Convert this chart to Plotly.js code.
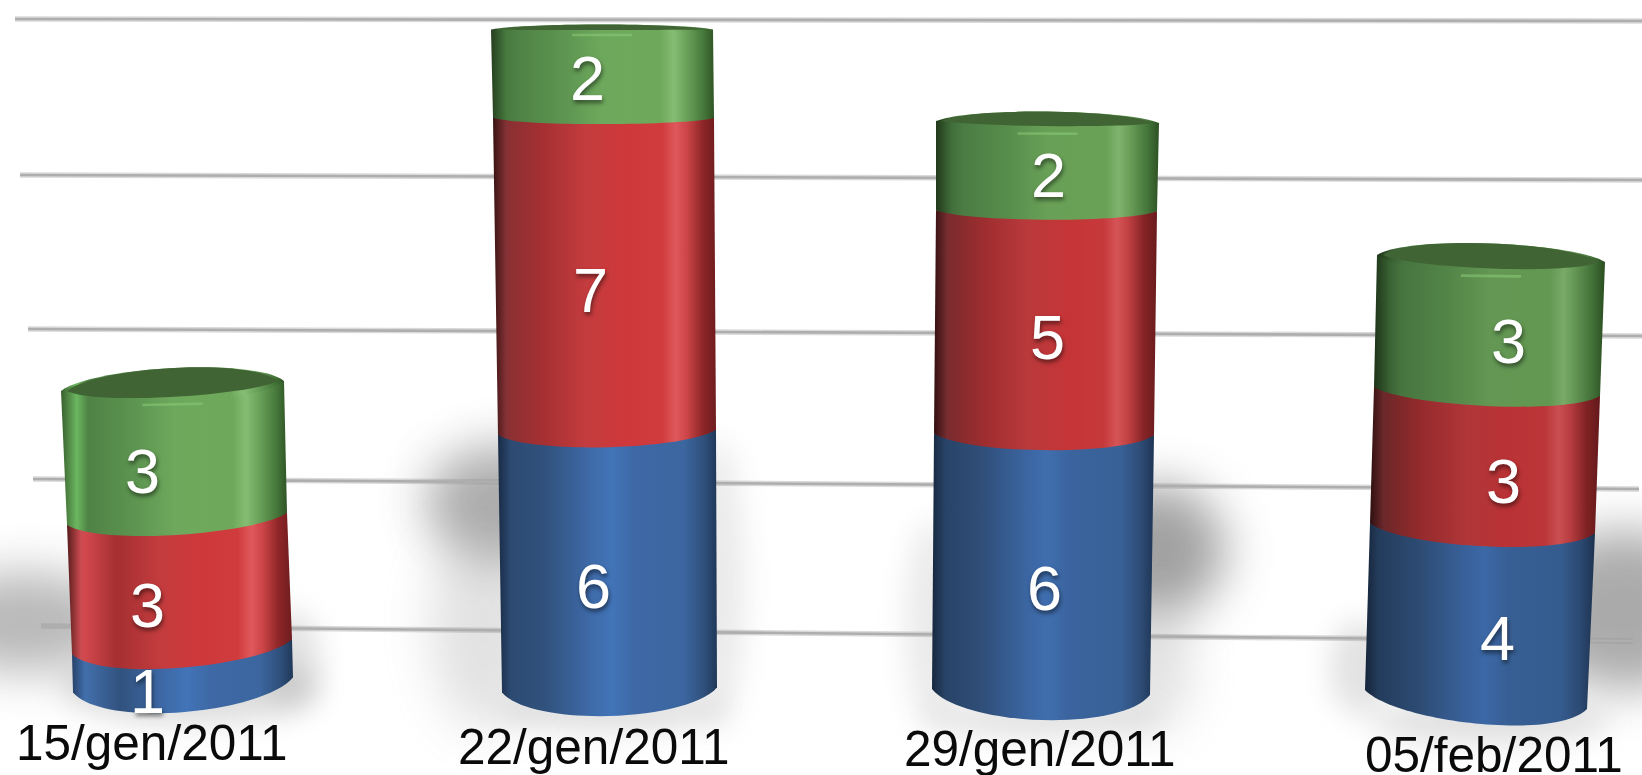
<!DOCTYPE html>
<html>
<head>
<meta charset="utf-8">
<script src="https://cdn.plot.ly/plotly-3.0.1.min.js"></script>
<style>
html,body{margin:0;padding:0;background:#fff;overflow:hidden}
#chart{width:1642px;height:775px;filter:blur(0.7px)}
</style>
</head>
<body>
<div id="chart"></div>
<script>
// ---- data ----
const categories = ["15/gen/2011", "22/gen/2011", "29/gen/2011", "05/feb/2011"];
const seriesBlue  = [1, 6, 6, 4];
const seriesRed   = [3, 7, 5, 3];
const seriesGreen = [3, 2, 2, 3];

// ---- layout / perspective constants (pixels of the 1642x775 page) ----
const U = 44.3, Y0 = 700;
const py = p => +((Y0 - p) / U).toFixed(4);
const allSeries = [seriesBlue, seriesRed, seriesGreen];
const baseColors = ["#3c68a4", "#c23a3c", "#64a055"];
const colFloorPx = [685, 690, 692, 699.5];
const floorNudgePx = [[0, 6, 11], [0, 8, 4], [0, 8, 6], [0, 6, 2]];
const barCenterPx = [178.5, 607.5, 1043, 1482];
const barWidthPx = 190;
// per column, per boundary (bottom..top): [left, right, tilt, sag]
const edgeGeom = [
  [[73, 293, 7.5, 27], [72, 292, 7.5, 21], [67, 287, 6, 16], [61, 284, 5, 18]],
  [[502, 717, 2.5, 26], [498, 716, 2.5, 15], [493, 714, 0, 6], [491, 713, 0, 5]],
  [[932, 1150, -3, 28], [934, 1154, -1, 16], [936, 1157, -0.5, 9], [936, 1159, -1, 11]],
  [[1365, 1587, -9.5, 24], [1370, 1595, -5, 18], [1374, 1600, -4.5, 14.5], [1377, 1605, -3.5, 17]]
];
const capBackSag = [18, 5, 10.5, 15];
const labelCenterPx = [[147, 147, 142], [593, 590, 587], [1044, 1047, 1048], [1497, 1503, 1508]];
const labelDyPx = [[28, 24.5, 18.5], [29, 13, 4], [29, 14, 9], [27, 19.5, 16]];
const catLabelPos = [[152, 742], [594, 746], [1040, 748], [1494, 754]];
const gridLines = [[15, 19, 1642, 21], [20, 175, 1642, 180], [28, 329, 1642, 336], [33, 479, 1639, 489], [41, 626, 1633, 641]];
// soft shadows: [x0, y0, x1, y1, colour, opacity, blurId]
const shadows = [
  [-70, 572, 120, 672, "#666", 0.46, "b1"],
  [60, 650, 320, 725, "#888", 0.28, "b2"],
  [260, 610, 320, 710, "#999", 0.28, "b2"],
  [425, 445, 580, 560, "#555", 0.48, "b1"],
  [430, 520, 540, 730, "#999", 0.28, "b1"],
  [690, 440, 745, 730, "#aaa", 0.24, "b2"],
  [500, 690, 720, 732, "#888", 0.26, "b2"],
  [1090, 485, 1225, 615, "#555", 0.55, "b1"],
  [1120, 600, 1190, 730, "#999", 0.30, "b1"],
  [905, 520, 960, 730, "#aaa", 0.24, "b2"],
  [930, 700, 1160, 738, "#888", 0.24, "b2"],
  [1530, 530, 1720, 690, "#666", 0.55, "b1"],
  [1330, 620, 1390, 715, "#999", 0.28, "b2"],
  [1370, 700, 1610, 744, "#888", 0.26, "b2"]
];
const gradStops = [
  [[0, "#1a2c46"], [0.06, "#2c4a72"], [0.22, "#31527e"], [0.42, "#3e6aa8"], [0.52, "#4274b8"], [0.62, "#3e69a6"], [0.85, "#3b669f"], [0.94, "#30507c"], [1, "#203858"]],
  [[0, "#3a1212"], [0.06, "#853236"], [0.08, "#8c3033"], [0.22, "#a52f31"], [0.42, "#c43c3e"], [0.6, "#cf383b"], [0.76, "#d03c3e"], [0.82, "#e0585b"], [0.87, "#cc4447"], [0.94, "#8e2628"], [1, "#6f1c1e"]],
  [[0, "#253f1e"], [0.07, "#487a40"], [0.12, "#4f8246"], [0.32, "#5c9450"], [0.5, "#6ea85c"], [0.76, "#6ea95b"], [0.82, "#86bd74"], [0.87, "#6ea55d"], [0.95, "#477a3c"], [1, "#305525"]]
];
const colBright = [1, 1, 0.95, 0.9];
const colLeftLift = [1.5, 1, 0.95, 0.9];

// ---- helpers ----
const floorPx = (c, s) => {
  let cum = 0;
  for (let i = 0; i < s; i++) cum += allSeries[i][c];
  return colFloorPx[c] - U * cum + floorNudgePx[c][s];
};
const chordPx = (c, b) => b < 3 ? floorPx(c, b) : floorPx(c, 2) - U * seriesGreen[c];
const P = (x, y) => x.toFixed(2) + "," + py(y);
const curve = ([L, R, t, s], ch, dir) => {
  const w = R - L, yL = ch + t, yR = ch - t, k = 4 / 3 * s * dir;
  return `C${P(R - 0.14 * w, yR + k)} ${P(L + 0.14 * w, yL + k)} ${P(L, yL)}`;
};
function shade(hex, f) {
  const n = parseInt(hex.slice(1), 16);
  const ch = v => Math.max(0, Math.min(255, Math.round(v * f)));
  return "rgb(" + ch(n >> 16) + "," + ch((n >> 8) & 255) + "," + ch(n & 255) + ")";
}

// ---- traces: the stacked bars ----
const traces = allSeries.map((vals, s) => ({
  type: "bar",
  name: ["Blu", "Rosso", "Verde"][s],
  x: barCenterPx,
  y: vals,
  base: vals.map((_, c) => py(floorPx(c, s))),
  width: barWidthPx,
  marker: { color: baseColors[s], line: { width: 0 } },
  hoverinfo: "y",
  showlegend: false
}));

// ---- shapes ----
const shapes = [];
const post = [];
shadows.forEach(([x0, y0, x1, y1, col, op, blur]) => {
  post.push({ i: shapes.length, filter: blur });
  shapes.push({ type: "circle", layer: "below", xref: "x", yref: "y", x0, x1, y0: py(y0), y1: py(y1), fillcolor: col, opacity: op, line: { width: 0 } });
});
gridLines.forEach(([x0, y0, x1, y1]) => {
  shapes.push({ type: "line", layer: "below", xref: "x", yref: "y", x0, x1, y0: py(y0), y1: py(y1), line: { color: "rgba(150,150,150,0.35)", width: 5.5 } });
  shapes.push({ type: "line", layer: "below", xref: "x", yref: "y", x0, x1, y0: py(y0), y1: py(y1), line: { color: "#aeaeae", width: 2.6 } });
});
categories.forEach((_, c) => {
  for (let s = 0; s < 3; s++) {
    const lo = edgeGeom[c][s], up = edgeGeom[c][s + 1];
    const chLo = chordPx(c, s), chUp = chordPx(c, s + 1);
    const path = `M${P(up[0], chUp + up[2])} L${P(up[1], chUp - up[2])} L${P(lo[1], chLo - lo[2])} ${curve(lo, chLo, 1)} Z`;
    post.push({ i: shapes.length, fill: `g${c}_${s}` });
    shapes.push({ type: "path", layer: "above", xref: "x", yref: "y", path, fillcolor: baseColors[s], line: { width: 0 } });
  }
  // top cap
  const g = edgeGeom[c][3], ch = chordPx(c, 3);
  const back = (() => {
    const [L, R, t] = g, w = R - L, k = 4 / 3 * capBackSag[c];
    return `C${P(L + 0.14 * w, ch + t - k)} ${P(R - 0.14 * w, ch - t - k)} ${P(R, ch - t)}`;
  })();
  post.push({ i: shapes.length, fill: `g${c}_2` });
  shapes.push({ type: "path", layer: "above", xref: "x", yref: "y", path: `M${P(g[1], ch - g[2])} ${curve(g, ch, 1)} ${back} Z`, fillcolor: baseColors[2], line: { width: 0 } });
  // inner dark face of the cap
  const inset = 6, gi = [g[0] + inset, g[1] - inset, g[2], Math.max(g[3] - 7, 0.5)];
  const bi = (() => {
    const [L, R, t] = gi, w = R - L, k = 4 / 3 * capBackSag[c];
    return `C${P(L + 0.14 * w, ch + t - k)} ${P(R - 0.14 * w, ch - t - k)} ${P(R, ch - t)}`;
  })();
  shapes.push({ type: "path", layer: "above", xref: "x", yref: "y", path: `M${P(gi[1], ch - gi[2])} ${curve(gi, ch, 1)} ${bi} Z`, fillcolor: "#416434", line: { width: 0 } });
  // soft glint on the front rim
  const mx = (g[0] + g[1]) / 2, gy = ch + g[3] + 0.5;
  shapes.push({ type: "line", layer: "above", xref: "x", yref: "y", x0: mx - 30, x1: mx + 30, y0: py(gy + g[2] * 0.12), y1: py(gy - g[2] * 0.12), line: { color: "#8fd07b", width: 2.6 }, opacity: 0.5 });
});

// ---- annotations ----
const annotations = [];
categories.forEach((name, c) => {
  allSeries.forEach((vals, s) => {
    const mid = floorPx(c, s) - U * vals[c] / 2 + labelDyPx[c][s];
    annotations.push({
      x: labelCenterPx[c][s], y: py(mid), xref: "x", yref: "y", text: String(vals[c]), showarrow: false,
      xanchor: "center", yanchor: "middle",
      font: { family: "Liberation Sans, Arial, sans-serif", size: 63, color: "#ffffff", shadow: "1px 3px 4px rgba(0,0,0,0.5)" }
    });
  });
  annotations.push({
    x: catLabelPos[c][0], y: py(catLabelPos[c][1]), xref: "x", yref: "y", text: name, showarrow: false,
    xanchor: "center", yanchor: "middle",
    font: { family: "Liberation Sans, Arial, sans-serif", size: 49.5, color: "#0a0a0a" }
  });
});

const layout = {
  width: 1642, height: 775,
  margin: { l: 0, r: 0, t: 0, b: 0 },
  paper_bgcolor: "#ffffff", plot_bgcolor: "rgba(0,0,0,0)",
  barmode: "overlay",
  xaxis: { range: [0, 1642], visible: false, fixedrange: true },
  yaxis: { range: [py(775), py(0)], visible: false, fixedrange: true },
  shapes, annotations
};

Plotly.newPlot("chart", traces, layout, { displayModeBar: false, responsive: false }).then(gd => {
  const svg = gd.querySelector(".main-svg");
  const NS = "http://www.w3.org/2000/svg";
  const defs = document.createElementNS(NS, "defs");
  categories.forEach((_, c) => gradStops.forEach((stops, s) => {
    const lg = document.createElementNS(NS, "linearGradient");
    lg.setAttribute("id", `g${c}_${s}`);
    stops.forEach(([o, col]) => {
      const st = document.createElementNS(NS, "stop");
      st.setAttribute("offset", o);
      st.setAttribute("stop-color", shade(col, o < 0.1 ? colLeftLift[c] * colBright[c] : colBright[c]));
      lg.appendChild(st);
    });
    defs.appendChild(lg);
  }));
  [["b1", 24], ["b2", 14]].forEach(([id, sd]) => {
    const f = document.createElementNS(NS, "filter");
    f.setAttribute("id", id);
    f.setAttribute("x", "-100%"); f.setAttribute("y", "-100%");
    f.setAttribute("width", "300%"); f.setAttribute("height", "300%");
    const b = document.createElementNS(NS, "feGaussianBlur");
    b.setAttribute("stdDeviation", sd);
    f.appendChild(b);
    defs.appendChild(f);
  });
  svg.insertBefore(defs, svg.firstChild);
  post.forEach(p => {
    const el = gd.querySelector(`.shapelayer path[data-index="${p.i}"]`);
    if (!el) return;
    if (p.fill) el.style.fill = `url(#${p.fill})`;
    if (p.filter) el.setAttribute("filter", `url(#${p.filter})`);
  });
});
</script>
</body>
</html>
